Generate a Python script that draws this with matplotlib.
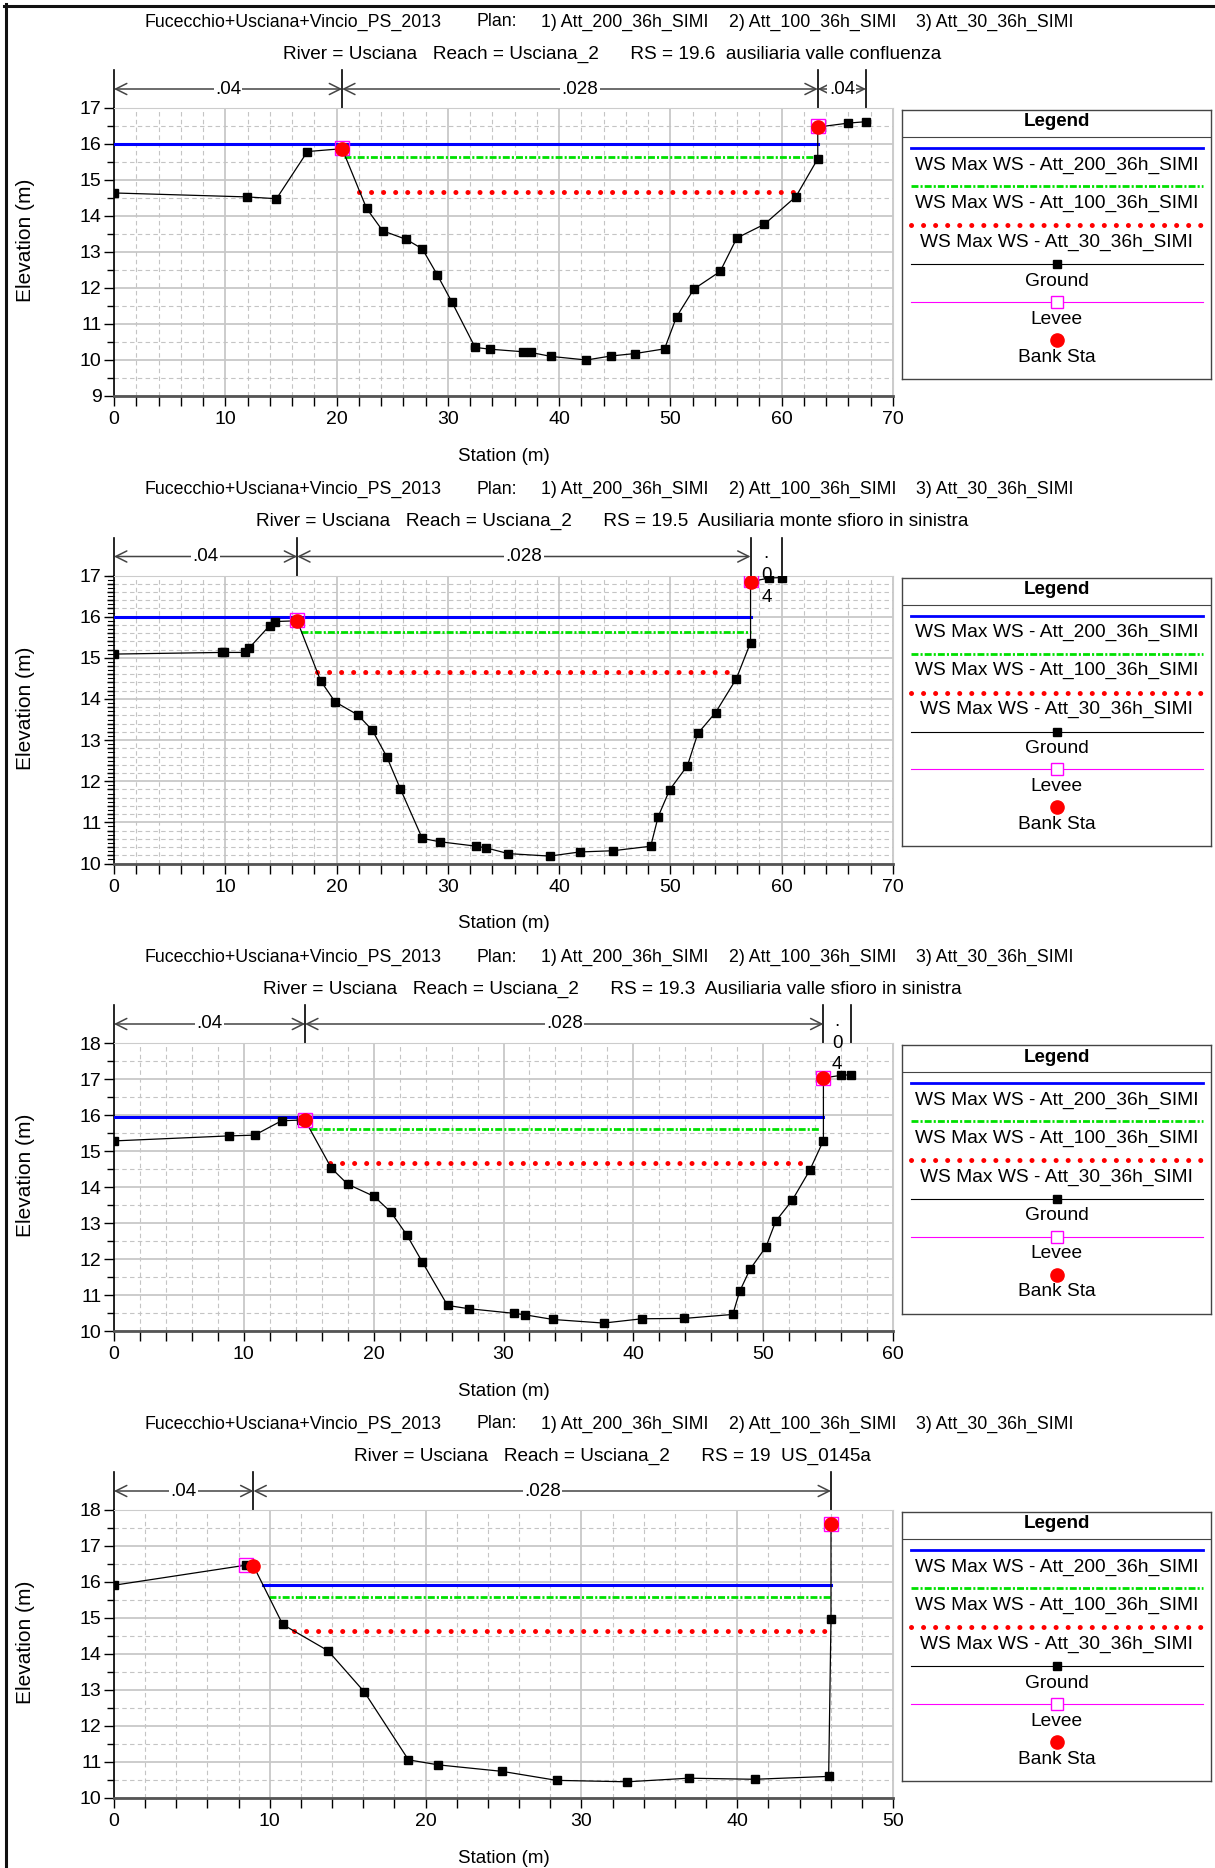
import numpy as np
import matplotlib
matplotlib.use('Agg')
from matplotlib import pyplot as plt
from matplotlib.lines import Line2D
from matplotlib.transforms import blended_transform_factory
from matplotlib.ticker import MultipleLocator

plt.rcParams['font.family'] = ['Liberation Sans', 'DejaVu Sans']

# ---- data ----
sta1 = [0, 11.97, 14.6, 17.38, 20.5, 22.7, 24.14, 26.26, 27.7, 29.04, 30.38, 32.45, 33.79, 36.73,
        37.45, 39.26, 42.45, 44.62, 46.84, 49.47, 50.55, 52.1, 54.47, 55.97, 58.44, 61.28, 63.24,
        63.24, 65.97, 67.57]
elev1 = [14.64, 14.53, 14.48, 15.79, 15.87, 14.21, 13.59, 13.35, 13.09, 12.37, 11.60, 10.35, 10.30,
         10.23, 10.21, 10.10, 10.00, 10.11, 10.18, 10.31, 11.20, 11.97, 12.46, 13.39, 13.77, 14.54,
         15.59, 16.47, 16.58, 16.62]

sta2 = [0, 9.7, 9.9, 11.76, 12.12, 13.98, 14.44, 16.46, 18.57, 19.86, 21.92, 23.21, 24.5, 25.74,
        27.7, 29.25, 32.55, 33.43, 35.44, 39.15, 41.83, 44.83, 48.23, 48.9, 49.93, 51.53, 52.46,
        54.06, 55.92, 57.2, 57.2, 58.9, 60.04]
elev2 = [15.09, 15.13, 15.13, 15.13, 15.23, 15.78, 15.88, 15.90, 14.44, 13.93, 13.61, 13.24, 12.60,
         11.81, 10.61, 10.53, 10.42, 10.38, 10.24, 10.18, 10.28, 10.31, 10.42, 11.14, 11.79, 12.38,
         13.16, 13.67, 14.49, 15.37, 16.85, 16.94, 16.95]

sta3 = [0, 8.89, 10.83, 12.91, 14.41, 14.72, 16.75, 17.99, 20.03, 21.31, 22.55, 23.74, 25.69, 27.32,
        30.81, 31.65, 33.82, 37.71, 40.67, 43.94, 47.66, 48.19, 48.98, 50.22, 50.97, 52.25, 53.58,
        54.64, 54.64, 55.97, 56.76]
elev3 = [15.28, 15.42, 15.44, 15.84, 15.86, 15.85, 14.52, 14.08, 13.74, 13.31, 12.67, 11.92, 10.71,
         10.62, 10.49, 10.45, 10.32, 10.22, 10.34, 10.35, 10.46, 11.10, 11.71, 12.34, 13.05, 13.64,
         14.46, 15.29, 17.03, 17.10, 17.12]

sta4 = [0, 8.5, 8.95, 10.83, 13.74, 16.06, 18.9, 20.82, 24.91, 28.41, 32.94, 36.88, 41.12, 45.87,
        46.02, 46.02]
elev4 = [15.91, 16.47, 16.45, 14.82, 14.09, 12.95, 11.06, 10.92, 10.74, 10.49, 10.45, 10.55, 10.52,
         10.60, 14.96, 17.57]

stations = [sta1, sta2, sta3, sta4]
elevations = [elev1, elev2, elev3, elev4]

bank_sta = [[20.5, 63.24], [16.46, 57.2], [14.72, 54.64], [8.95, 46.02]]
bank_elev = [[15.87, 16.47], [15.90, 16.85], [15.85, 17.03], [16.45, 17.6]]
levee_sta = [[20.5, 63.24], [16.46, 57.2], [14.72, 54.64], [8.5, 46.02]]
levee_elev = [[15.9, 16.5], [15.92, 16.88], [15.87, 17.03], [16.47, 17.6]]

# WS: Att_200, Att_100, Att_30
ws_elev = [[16.0, 15.64, 14.66], [15.99, 15.63, 14.66], [15.94, 15.61, 14.67], [15.93, 15.58, 14.65]]
ws_start = [[0, 20.7, 22.0], [0, 16.8, 18.26], [0, 15.1, 16.6], [9.54, 9.95, 11.57]]
ws_end = [[63.24, 63.24, 61.3], [57.2, 57.2, 55.56], [54.64, 54.3, 53.45], [46.02, 46.02, 45.8]]

n_sta = [[0, 20.5, 63.24, 67.57], [0, 16.46, 57.2, 60.04], [0, 14.72, 54.64, 56.76], [0, 8.95, 46.02]]
n_val = [['.04', '.028', '.04'], ['.04', '.028', '.04'], ['.04', '.028', '.04'], ['.04', '.028']]

rs_text = ['19.6  ausiliaria valle confluenza', '19.5  Ausiliaria monte sfioro in sinistra',
           '19.3  Ausiliaria valle sfioro in sinistra', '19  US_0145a']
xmax = [70, 70, 60, 50]
ymin = [9, 10, 10, 10]
ymax = [17, 17, 18, 18]
ygrid_minor = [0.5, 0.2, 0.5, 0.5]

plan_chunks = ['Fucecchio+Usciana+Vincio_PS_2013', 'Plan:', '1) Att_200_36h_SIMI',
               '2) Att_100_36h_SIMI', '3) Att_30_36h_SIMI']
ws_names = ['WS Max WS - Att_200_36h_SIMI', 'WS Max WS - Att_100_36h_SIMI', 'WS Max WS - Att_30_36h_SIMI']

# ---- layout (pixels) ----
W, H = 1215, 1868
fig = plt.figure(figsize=(W / 100, H / 100), dpi=100)
tops = [108, 575.5, 1043, 1510]
AX_L, AX_R, AX_H = 114, 893, 288
chunk_x = [145, 476, 541, 729, 916]

ws_colors = ['#0000ff', '#00e000', '#ff0000']
green_ls = (0, (2.5, 0.75, 0.75, 0.75))
red_ls = (0, (0.01, 2.4))


def draw_legend(top):
    lax = fig.add_axes([902 / W, 1 - (top + 270) / H, 309 / W, 269 / H])
    lax.set_xlim(0, 309)
    lax.set_ylim(269, 0)
    lax.set_xticks([])
    lax.set_yticks([])
    for s in lax.spines.values():
        s.set_color('#444444')
        s.set_linewidth(1)
    cx = 154.5
    lx = [9, 301]
    fs = 13.8
    lax.text(cx, 12, 'Legend', ha='center', va='center', fontsize=13.5, fontweight='bold')
    lax.plot([0, 309], [27, 27], color='#444444', lw=0.8)
    lax.plot(lx, [38, 38], color=ws_colors[0], lw=2)
    lax.text(cx, 55, ws_names[0], ha='center', va='center', fontsize=fs)
    lax.plot(lx, [76, 76], color=ws_colors[1], lw=2, linestyle=green_ls)
    lax.text(cx, 93, ws_names[1], ha='center', va='center', fontsize=fs)
    lax.plot(lx, [115, 115], color=ws_colors[2], lw=3.6, linestyle=red_ls, dash_capstyle='round')
    lax.text(cx, 132, ws_names[2], ha='center', va='center', fontsize=fs)
    lax.plot(lx, [154, 154], color='black', lw=0.8)
    lax.plot([cx], [154], marker='s', color='black', ms=6)
    lax.text(cx, 171, 'Ground', ha='center', va='center', fontsize=fs)
    lax.plot(lx, [192, 192], color='#ff00ff', lw=0.8)
    lax.plot([cx], [192], marker='s', mfc='white', mec='#ff00ff', ms=8, mew=1)
    lax.text(cx, 209, 'Levee', ha='center', va='center', fontsize=fs)
    lax.plot([cx], [230], marker='o', color='red', ms=9.5)
    lax.text(cx, 247, 'Bank Sta', ha='center', va='center', fontsize=fs)


for i in range(4):
    top = tops[i]
    ax = fig.add_axes([AX_L / W, 1 - (top + AX_H) / H, (AX_R - AX_L) / W, AX_H / H])
    ax.set_xlim(0, xmax[i])
    ax.set_ylim(ymin[i], ymax[i])
    ax.set_axisbelow(True)

    ax.xaxis.set_major_locator(MultipleLocator(10))
    ax.xaxis.set_minor_locator(MultipleLocator(2))
    ax.yaxis.set_major_locator(MultipleLocator(1))
    ax.yaxis.set_minor_locator(MultipleLocator(ygrid_minor[i]))
    ax.grid(which='major', color='#c8c8c8', lw=1.3, ls='-')
    ax.grid(which='minor', color='#c4c4c4', lw=0.8, ls=(0, (4, 3)))
    if i == 1:
        # finer tick marks without grid
        ytr = blended_transform_factory(ax.transAxes, ax.transData)
        for v in np.arange(10, 17.001, 0.1):
            ax.plot([0, -0.008], [v, v], transform=ytr, color='black', lw=0.8, clip_on=False)
    ax.tick_params(which='both', direction='out', length=7, width=1, labelsize=14, color='black')
    ax.tick_params(axis='x', pad=4)
    ax.tick_params(axis='y', pad=2)
    ax.tick_params(axis='y', which='minor', length=5)

    ax.spines['top'].set_color('#cccccc')
    ax.spines['right'].set_color('#cccccc')
    ax.spines['left'].set_color('black')
    ax.spines['left'].set_linewidth(1.2)
    ax.spines['bottom'].set_color('#555555')
    ax.spines['bottom'].set_linewidth(2)

    # water surfaces
    styles = [dict(lw=2.2, ls='-'),
              dict(lw=2.0, ls=green_ls),
              dict(lw=3.6, ls=red_ls, dash_capstyle='round')]
    for k in range(3):
        ax.plot([ws_start[i][k], ws_end[i][k]], [ws_elev[i][k], ws_elev[i][k]],
                color=ws_colors[k], zorder=3, **styles[k])

    # ground
    ax.plot(stations[i], elevations[i], color='black', lw=0.9, marker='s', ms=6, zorder=4)
    ax.plot(levee_sta[i], levee_elev[i], ls='none', marker='s', mfc='none', mec='#ff00ff',
            ms=9.5, mew=1, zorder=5)
    ax.plot(bank_sta[i], bank_elev[i], ls='none', marker='o', color='red', ms=9.5, zorder=6)

    ax.set_xlabel('Station (m)', fontsize=13.5, labelpad=14)
    ax.set_ylabel('Elevation (m)', fontsize=15, va='center')
    ax.yaxis.set_label_coords(-0.113, 0.54)

    # manning n dimension lines
    tr = blended_transform_factory(ax.transData, ax.transAxes)
    y_dim = 1 + 19 / AX_H
    y_vt = 1 + 38 / AX_H
    for s in n_sta[i]:
        ax.plot([s, s], [1, y_vt], transform=tr, color='black', lw=1.2, clip_on=False)
    for j, lab in enumerate(n_val[i]):
        a, b = n_sta[i][j], n_sta[i][j + 1]
        mid = (a + b) / 2
        if (b - a) / xmax[i] * (AX_R - AX_L) > 40:
            ax.annotate('', xy=(b, y_dim), xytext=(a, y_dim), xycoords=tr, textcoords=tr,
                        arrowprops=dict(arrowstyle='<->,head_length=0.5,head_width=0.25',
                                        color='#444444', lw=1.1, shrinkA=0, shrinkB=0,
                                        mutation_scale=16))
            ax.text(mid, y_dim, lab, transform=tr, ha='center', va='center', fontsize=13.5,
                    bbox=dict(fc='white', ec='none', pad=1))
        else:
            ax.text(mid, 1.0, '.\n0\n4', transform=tr, ha='center', va='center', fontsize=13.5,
                    linespacing=1.35, zorder=7)

    # titles
    for cx, ch in zip(chunk_x, plan_chunks):
        fig.text(cx / W, 1 - (top - 86) / H, ch, ha='left', va='center', fontsize=12.8)
    fig.text(612 / W, 1 - (top - 54) / H,
             'River = Usciana   Reach = Usciana_2      RS = ' + rs_text[i],
             ha='center', va='center', fontsize=13.7)

    draw_legend(top + 1)

# outer frame (top and left)
fig.add_artist(Line2D([4 / W, 1], [1 - 5.5 / H, 1 - 5.5 / H], color='#111111', lw=2.2))
fig.add_artist(Line2D([5.5 / W, 5.5 / W], [0, 1 - 4 / H], color='#111111', lw=2.2))

fig.savefig('out.png', dpi=100)
